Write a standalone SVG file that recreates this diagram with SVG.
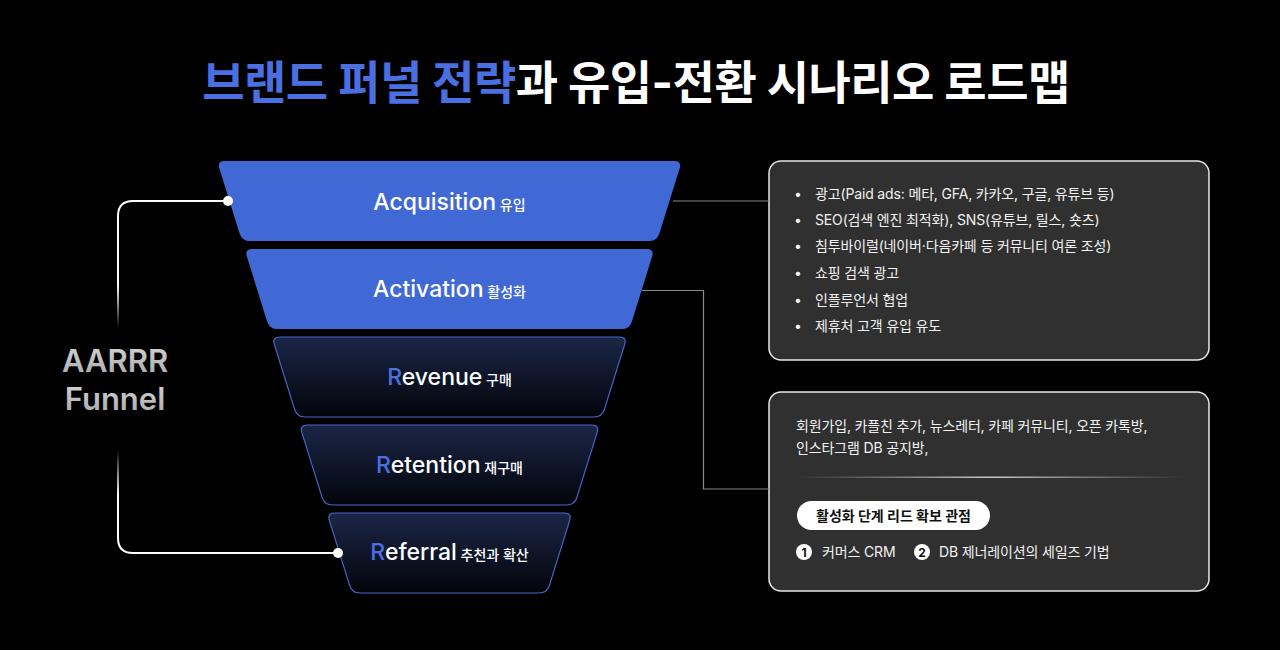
<svg xmlns="http://www.w3.org/2000/svg" width="1280" height="650" viewBox="0 0 1280 650">
<defs>
<linearGradient id="darkLayer" x1="0" y1="0" x2="0" y2="1">
<stop offset="0" stop-color="#1b2647"/>
<stop offset="1" stop-color="#03050b"/>
</linearGradient>
<linearGradient id="fadeTop" gradientUnits="userSpaceOnUse" x1="0" y1="285" x2="0" y2="328">
<stop offset="0" stop-color="#ffffff" stop-opacity="1"/>
<stop offset="1" stop-color="#ffffff" stop-opacity="0"/>
</linearGradient>
<linearGradient id="fadeBot" gradientUnits="userSpaceOnUse" x1="0" y1="450" x2="0" y2="495">
<stop offset="0" stop-color="#ffffff" stop-opacity="0"/>
<stop offset="1" stop-color="#ffffff" stop-opacity="1"/>
</linearGradient>
<linearGradient id="divider" x1="0" y1="0" x2="1" y2="0">
<stop offset="0" stop-color="#bbbbbb" stop-opacity="0"/>
<stop offset="0.5" stop-color="#c8c8c8" stop-opacity="1"/>
<stop offset="1" stop-color="#bbbbbb" stop-opacity="0"/>
</linearGradient>
<linearGradient id="aarrr" x1="0" y1="0" x2="0" y2="1">
<stop offset="0" stop-color="#d6d6d6"/>
<stop offset="1" stop-color="#a8a8a8"/>
</linearGradient>
</defs>
<style>
.layerBlue{fill:#4169d6;}
.layerDark{fill:url(#darkLayer);stroke:#4a66c8;stroke-width:1.2;}
.lbl{font-family:Inter,"Noto Sans CJK KR",sans-serif;fill:#ffffff;text-anchor:middle;}
.en{font-size:23px;font-weight:500;}
.ko{font-size:14px;font-weight:500;}
.rb{fill:#4a6fe0;}
.box{fill:#303030;stroke:#e8e8e8;stroke-width:1.5;}
.bt{font-family:Inter,"Noto Sans CJK KR",sans-serif;font-size:14px;fill:#f2f2f2;letter-spacing:-0.15px;}
.conn{fill:none;stroke:#8a8a8a;stroke-width:1.2;}
.brk{fill:none;stroke-width:2;}
</style>
<rect width="1280" height="650" fill="#000000"/>

<text x="636" y="99" font-family="Inter,'Noto Sans CJK KR',sans-serif" font-size="46" font-weight="700" text-anchor="middle" letter-spacing="-0.5" fill="#ffffff"><tspan fill="#4a6fe0">브랜드 퍼널 전략</tspan>과 유입-전환 시나리오 로드맵</text>

<g id="aarrr-label">
<text x="115" y="372" font-family="Inter,'Noto Sans CJK KR',sans-serif" font-size="31" font-weight="600" text-anchor="middle" fill="url(#aarrr)">AARRR</text>
<text x="115" y="410" font-family="Inter,'Noto Sans CJK KR',sans-serif" font-size="31" font-weight="600" text-anchor="middle" fill="url(#aarrr)">Funnel</text>
</g>

<g id="acquisition">
<path class="layerBlue" d="M225,161 H674 Q682,161 679.6,168.6 L659.4,233.4 Q657,241 649,241 H250 Q242,241 239.6,233.4 L219.4,168.6 Q217,161 225,161 Z"/>
<text class="lbl" x="449.5" y="210"><tspan class="en">Acquisition</tspan><tspan class="ko"> 유입</tspan></text>
</g>
<g id="activation">
<path class="layerBlue" d="M252.5,249 H646.5 Q654.5,249 652.1,256.6 L631.9,321.4 Q629.5,329 621.5,329 H277.5 Q269.5,329 267.1,321.4 L246.9,256.6 Q244.5,249 252.5,249 Z"/>
<text class="lbl" x="449.5" y="297"><tspan class="en">Activation</tspan><tspan class="ko"> 활성화</tspan></text>
</g>
<g id="revenue">
<path class="layerDark" d="M280,337 H619 Q627,337 624.6,344.6 L604.4,409.4 Q602,417 594,417 H305 Q297,417 294.6,409.4 L274.4,344.6 Q272,337 280,337 Z"/>
<text class="lbl" x="449.5" y="385"><tspan class="en rb">R</tspan><tspan class="en">evenue</tspan><tspan class="ko"> 구매</tspan></text>
</g>
<g id="retention">
<path class="layerDark" d="M307.5,425 H591.5 Q599.5,425 597.1,432.6 L576.9,497.4 Q574.5,505 566.5,505 H332.5 Q324.5,505 322.1,497.4 L301.9,432.6 Q299.5,425 307.5,425 Z"/>
<text class="lbl" x="449.5" y="473"><tspan class="en rb">R</tspan><tspan class="en">etention</tspan><tspan class="ko"> 재구매</tspan></text>
</g>
<g id="referral">
<path class="layerDark" d="M335,513 H564 Q572,513 569.6,520.6 L549.4,585.4 Q547,593 539,593 H360 Q352,593 349.6,585.4 L329.4,520.6 Q327,513 335,513 Z"/>
<text class="lbl" x="449.5" y="560"><tspan class="en rb">R</tspan><tspan class="en">eferral</tspan><tspan class="ko"> 추천과 확산</tspan></text>
</g>

<g id="acquisition-box">
<rect class="box" x="769" y="161" width="440" height="199" rx="12"/>
<g class="bt">
<text x="794" y="199">•</text><text x="815" y="199">광고(Paid ads: 메타, GFA, 카카오, 구글, 유튜브 등)</text>
<text x="794" y="225">•</text><text x="815" y="225">SEO(검색 엔진 최적화), SNS(유튜브, 릴스, 숏츠)</text>
<text x="794" y="251">•</text><text x="815" y="251">침투바이럴(네이버·다음카페 등 커뮤니티 여론 조성)</text>
<text x="794" y="278">•</text><text x="815" y="278">쇼핑 검색 광고</text>
<text x="794" y="305">•</text><text x="815" y="305">인플루언서 협업</text>
<text x="794" y="331">•</text><text x="815" y="331">제휴처 고객 유입 유도</text>
</g>
</g>

<g id="activation-box">
<rect class="box" x="769" y="392" width="440" height="199" rx="12"/>
<g class="bt">
<text x="796" y="431">회원가입, 카플친  추가, 뉴스레터, 카페 커뮤니티, 오픈 카톡방,</text>
<text x="796" y="453">인스타그램 DB 공지방,</text>
</g>
<rect x="798" y="476.5" width="386" height="1.5" fill="url(#divider)"/>
<rect x="797" y="501" width="193" height="29" rx="14.5" fill="#ffffff"/>
<text x="893.5" y="520.5" font-family="Inter,'Noto Sans CJK KR',sans-serif" font-size="14" font-weight="700" text-anchor="middle" fill="#111111">활성화 단계 리드 확보 관점</text>
<circle cx="804" cy="552" r="8" fill="#ffffff"/>
<text x="804" y="556.5" font-family="Inter,sans-serif" font-size="12" font-weight="700" text-anchor="middle" fill="#111111">1</text>
<text class="bt" x="822" y="557">커머스 CRM</text>
<circle cx="922" cy="552" r="8" fill="#ffffff"/>
<text x="922" y="556.5" font-family="Inter,sans-serif" font-size="12" font-weight="700" text-anchor="middle" fill="#111111">2</text>
<text class="bt" x="939" y="557">DB 제너레이션의 세일즈 기법</text>
</g>

<g id="connectors">
<path class="conn" d="M673,201 H769"/>
<path class="conn" d="M642,290.5 H703.5 V489 H769"/>
<path class="brk" stroke="#ffffff" d="M228,201 H133 Q118,201 118,216 V285"/>
<path class="brk" stroke="url(#fadeTop)" d="M118,284 V330"/>
<path class="brk" stroke="url(#fadeBot)" d="M118,448 V496"/>
<path class="brk" stroke="#ffffff" d="M118,495 V538 Q118,553 133,553 H337"/>
<circle cx="228" cy="201" r="5" fill="#ffffff"/>
<circle cx="338" cy="553" r="5" fill="#ffffff"/>
</g>
</svg>
